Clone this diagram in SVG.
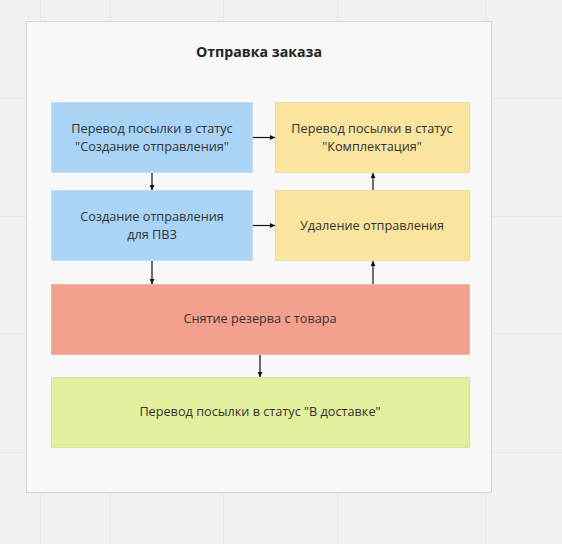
<svg xmlns="http://www.w3.org/2000/svg" width="562" height="544" viewBox="0 0 562 544">
<defs>
<style>
.bg{fill:#f1f1f1}
.grid{stroke:#e8e8e8;stroke-width:1;fill:none}
.frame{fill:#f8f8f8;stroke:#d4d4d4;stroke-width:1}
.blue{fill:#a9d4f5;stroke:#c8dbe8}
.yellow{fill:#f9e59d;stroke:#e8dcaa}
.red{fill:#f4a08e;stroke:#e8b8ae}
.green{fill:#e2ef9c;stroke:#d8dfb0}
.t{font-family:"Open Sans","Noto Sans","DejaVu Sans",sans-serif;font-size:12.7px;fill:#333;text-anchor:middle}
.title{font-family:"Open Sans","Noto Sans","DejaVu Sans",sans-serif;font-size:14.2px;font-weight:bold;fill:#222;text-anchor:middle}
.c{stroke:#111;stroke-width:1.2;fill:none;marker-end:url(#ah)}
</style>
<marker id="ah" viewBox="0 0 6 6" refX="6" refY="3" markerWidth="5" markerHeight="5" markerUnits="userSpaceOnUse" orient="auto">
<path d="M0,0 L6,3 L0,6 z" fill="#111"/>
</marker>
</defs>
<rect class="bg" x="0" y="0" width="562" height="544"/>
<g class="grid">
<path d="M0,98.5 H562 M0,216.5 H562 M0,333.5 H562 M0,452.5 H562 M110.5,0 V544 M223.5,0 V544 M337.5,0 V544 M485.5,0 V544 M40.5,0 V544"/>
</g>
<rect class="frame" x="26.5" y="21.5" width="465" height="471"/>
<text class="title" x="259" y="57">Отправка заказа</text>
<g id="connectors">
<line class="c" x1="253" y1="137.5" x2="275" y2="137.5"/>
<line class="c" x1="152" y1="173" x2="152" y2="190"/>
<line class="c" x1="253" y1="225.5" x2="275" y2="225.5"/>
<line class="c" x1="152" y1="261" x2="152" y2="284"/>
<line class="c" x1="373" y1="284" x2="373" y2="261"/>
<line class="c" x1="373" y1="191" x2="373" y2="173"/>
<line class="c" x1="260" y1="354" x2="260" y2="377"/>
</g>
<g id="n1">
<rect class="blue" x="51.5" y="102.5" width="201" height="70"/>
<text class="t" x="152" y="133">Перевод посылки в статус</text>
<text class="t" x="152" y="151">"Создание отправления"</text>
</g>
<g id="n2">
<rect class="yellow" x="275.5" y="102.5" width="194" height="70"/>
<text class="t" x="372" y="133">Перевод посылки в статус</text>
<text class="t" x="372" y="151">"Комплектация"</text>
</g>
<g id="n3">
<rect class="blue" x="51.5" y="190.5" width="201" height="70"/>
<text class="t" x="152" y="221">Создание отправления</text>
<text class="t" x="152" y="239">для ПВЗ</text>
</g>
<g id="n4">
<rect class="yellow" x="275.5" y="190.5" width="194" height="70"/>
<text class="t" x="372" y="230">Удаление отправления</text>
</g>
<g id="n5">
<rect class="red" x="51.5" y="284.5" width="418" height="70"/>
<text class="t" x="260" y="323">Снятие резерва с товара</text>
</g>
<g id="n6">
<rect class="green" x="51.5" y="377.5" width="418" height="70"/>
<text class="t" x="260" y="416">Перевод посылки в статус "В доставке"</text>
</g>
</svg>
